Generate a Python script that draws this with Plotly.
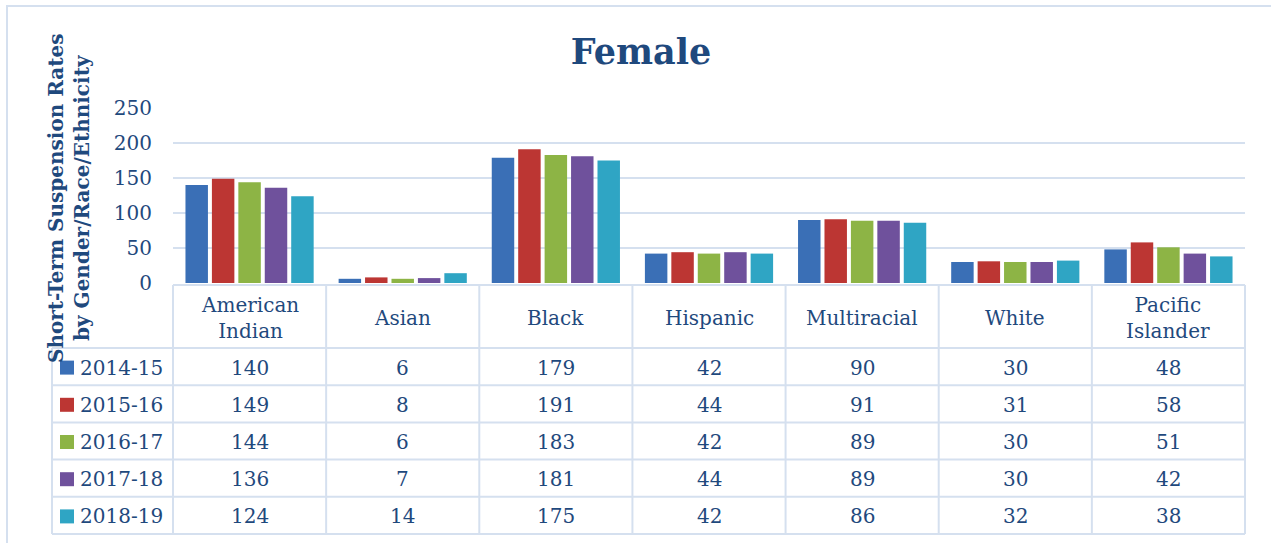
import plotly.graph_objects as go

categories = ["American Indian", "Asian", "Black", "Hispanic", "Multiracial", "White", "Pacific Islander"]
header_labels = ["American<br>Indian", "Asian", "Black", "Hispanic", "Multiracial", "White", "Pacific<br>Islander"]
years = ["2014-15", "2015-16", "2016-17", "2017-18", "2018-19"]
v2014_15 = [140, 6, 179, 42, 90, 30, 48]
v2015_16 = [149, 8, 191, 44, 91, 31, 58]
v2016_17 = [144, 6, 183, 42, 89, 30, 51]
v2017_18 = [136, 7, 181, 44, 89, 30, 42]
v2018_19 = [124, 14, 175, 42, 86, 32, 38]
series = [v2014_15, v2015_16, v2016_17, v2017_18, v2018_19]
colors = ["#3A6FB6", "#BC3633", "#8DB445", "#6F519C", "#2FA5C4"]
y_ticks = [0, 50, 100, 150, 200, 250]

TXT = "#1F497D"
GRID = "#D5E0EF"
FONT = "DejaVu Serif"

W, H = 1271, 543
PL, PR, PT, PB = 173, 1245, 108, 283


def px2x(px):
    return (px - PL) / (PR - PL)


def py2y(py):
    return (PB - py) / (PB - PT)


fig = go.Figure()
for name, vals, col in zip(years, series, colors):
    fig.add_trace(go.Bar(x=categories, y=vals, name=name, marker=dict(color=col, line=dict(width=0))))

shapes = []
annotations = []

# outer border
shapes.append(dict(type="rect", xref="paper", yref="paper", x0=px2x(7), x1=px2x(1290),
                   y0=py2y(6), y1=py2y(560), line=dict(color=GRID, width=2), layer="below"))

# table geometry
ncat = len(categories)
col_w = (PR - PL) / ncat
table_top = 285
header_bottom = 348
row_h = (534 - header_bottom) / len(years)
legend_left = 52
row_lines = [header_bottom + i * row_h for i in range(len(years) + 1)]

# horizontal lines
shapes.append(dict(type="line", xref="paper", yref="paper", x0=px2x(PL), x1=px2x(PR),
                   y0=py2y(table_top), y1=py2y(table_top), line=dict(color=GRID, width=2)))
for ry in row_lines:
    shapes.append(dict(type="line", xref="paper", yref="paper", x0=px2x(legend_left), x1=px2x(PR),
                       y0=py2y(ry), y1=py2y(ry), line=dict(color=GRID, width=2)))
# vertical lines
shapes.append(dict(type="line", xref="paper", yref="paper", x0=px2x(legend_left), x1=px2x(legend_left),
                   y0=py2y(header_bottom), y1=py2y(row_lines[-1]), line=dict(color=GRID, width=2)))
for i in range(ncat + 1):
    cx = PL + i * col_w
    shapes.append(dict(type="line", xref="paper", yref="paper", x0=px2x(cx), x1=px2x(cx),
                       y0=py2y(table_top), y1=py2y(row_lines[-1]), line=dict(color=GRID, width=2)))

# header labels
for i, lab in enumerate(header_labels):
    cx = PL + (i + 0.5) * col_w
    annotations.append(dict(xref="paper", yref="paper", x=px2x(cx), y=py2y((table_top + header_bottom) / 2 + 1),
                            text=lab, showarrow=False, font=dict(family=FONT, size=20, color=TXT),
                            xanchor="center", yanchor="middle"))

# rows
for r, (name, vals, col) in enumerate(zip(years, series, colors)):
    cy = row_lines[r] + row_h / 2
    shapes.append(dict(type="rect", xref="paper", yref="paper", x0=px2x(60), x1=px2x(74),
                       y0=py2y(cy - 6), y1=py2y(cy + 8), fillcolor=col, line=dict(width=0)))
    annotations.append(dict(xref="paper", yref="paper", x=px2x(78), y=py2y(cy + 1), text=name,
                            showarrow=False, font=dict(family=FONT, size=20, color=TXT),
                            xanchor="left", yanchor="middle"))
    for i, v in enumerate(vals):
        cx = PL + (i + 0.5) * col_w
        annotations.append(dict(xref="paper", yref="paper", x=px2x(cx), y=py2y(cy + 1), text=str(v),
                                showarrow=False, font=dict(family=FONT, size=20, color=TXT),
                                xanchor="center", yanchor="middle"))

# y axis title
annotations.append(dict(xref="paper", yref="paper", x=px2x(69), y=py2y(198),
                        text="<b>Short-Term Suspension Rates<br>by Gender/Race/Ethnicity</b>",
                        textangle=-90, showarrow=False, font=dict(family=FONT, size=20, color=TXT),
                        xanchor="center", yanchor="middle"))

fig.update_layout(
    width=W, height=H,
    margin=dict(l=PL, r=W - PR, t=PT, b=H - PB, pad=0),
    paper_bgcolor="white", plot_bgcolor="white",
    title=dict(text="<b>Female</b>", x=641 / W, xref="container", xanchor="center",
               y=1 - 52 / H, yanchor="middle", yref="container",
               font=dict(family=FONT, size=35, color=TXT)),
    barmode="group", bargap=0.137, bargroupgap=0.15,
    showlegend=False,
    xaxis=dict(showticklabels=False, showgrid=False, zeroline=False, showline=False, ticks=""),
    yaxis=dict(range=[0, 250], tickvals=y_ticks, showgrid=True, gridcolor=GRID, gridwidth=2,
               zeroline=False, showline=False, ticks="", ticklabelstandoff=20,
               tickfont=dict(family=FONT, size=20, color=TXT)),
    shapes=shapes, annotations=annotations,
)

fig.write_html("out.html", config={"displayModeBar": False},
               post_script="document.body.style.margin='0';document.body.style.overflow='hidden';")
